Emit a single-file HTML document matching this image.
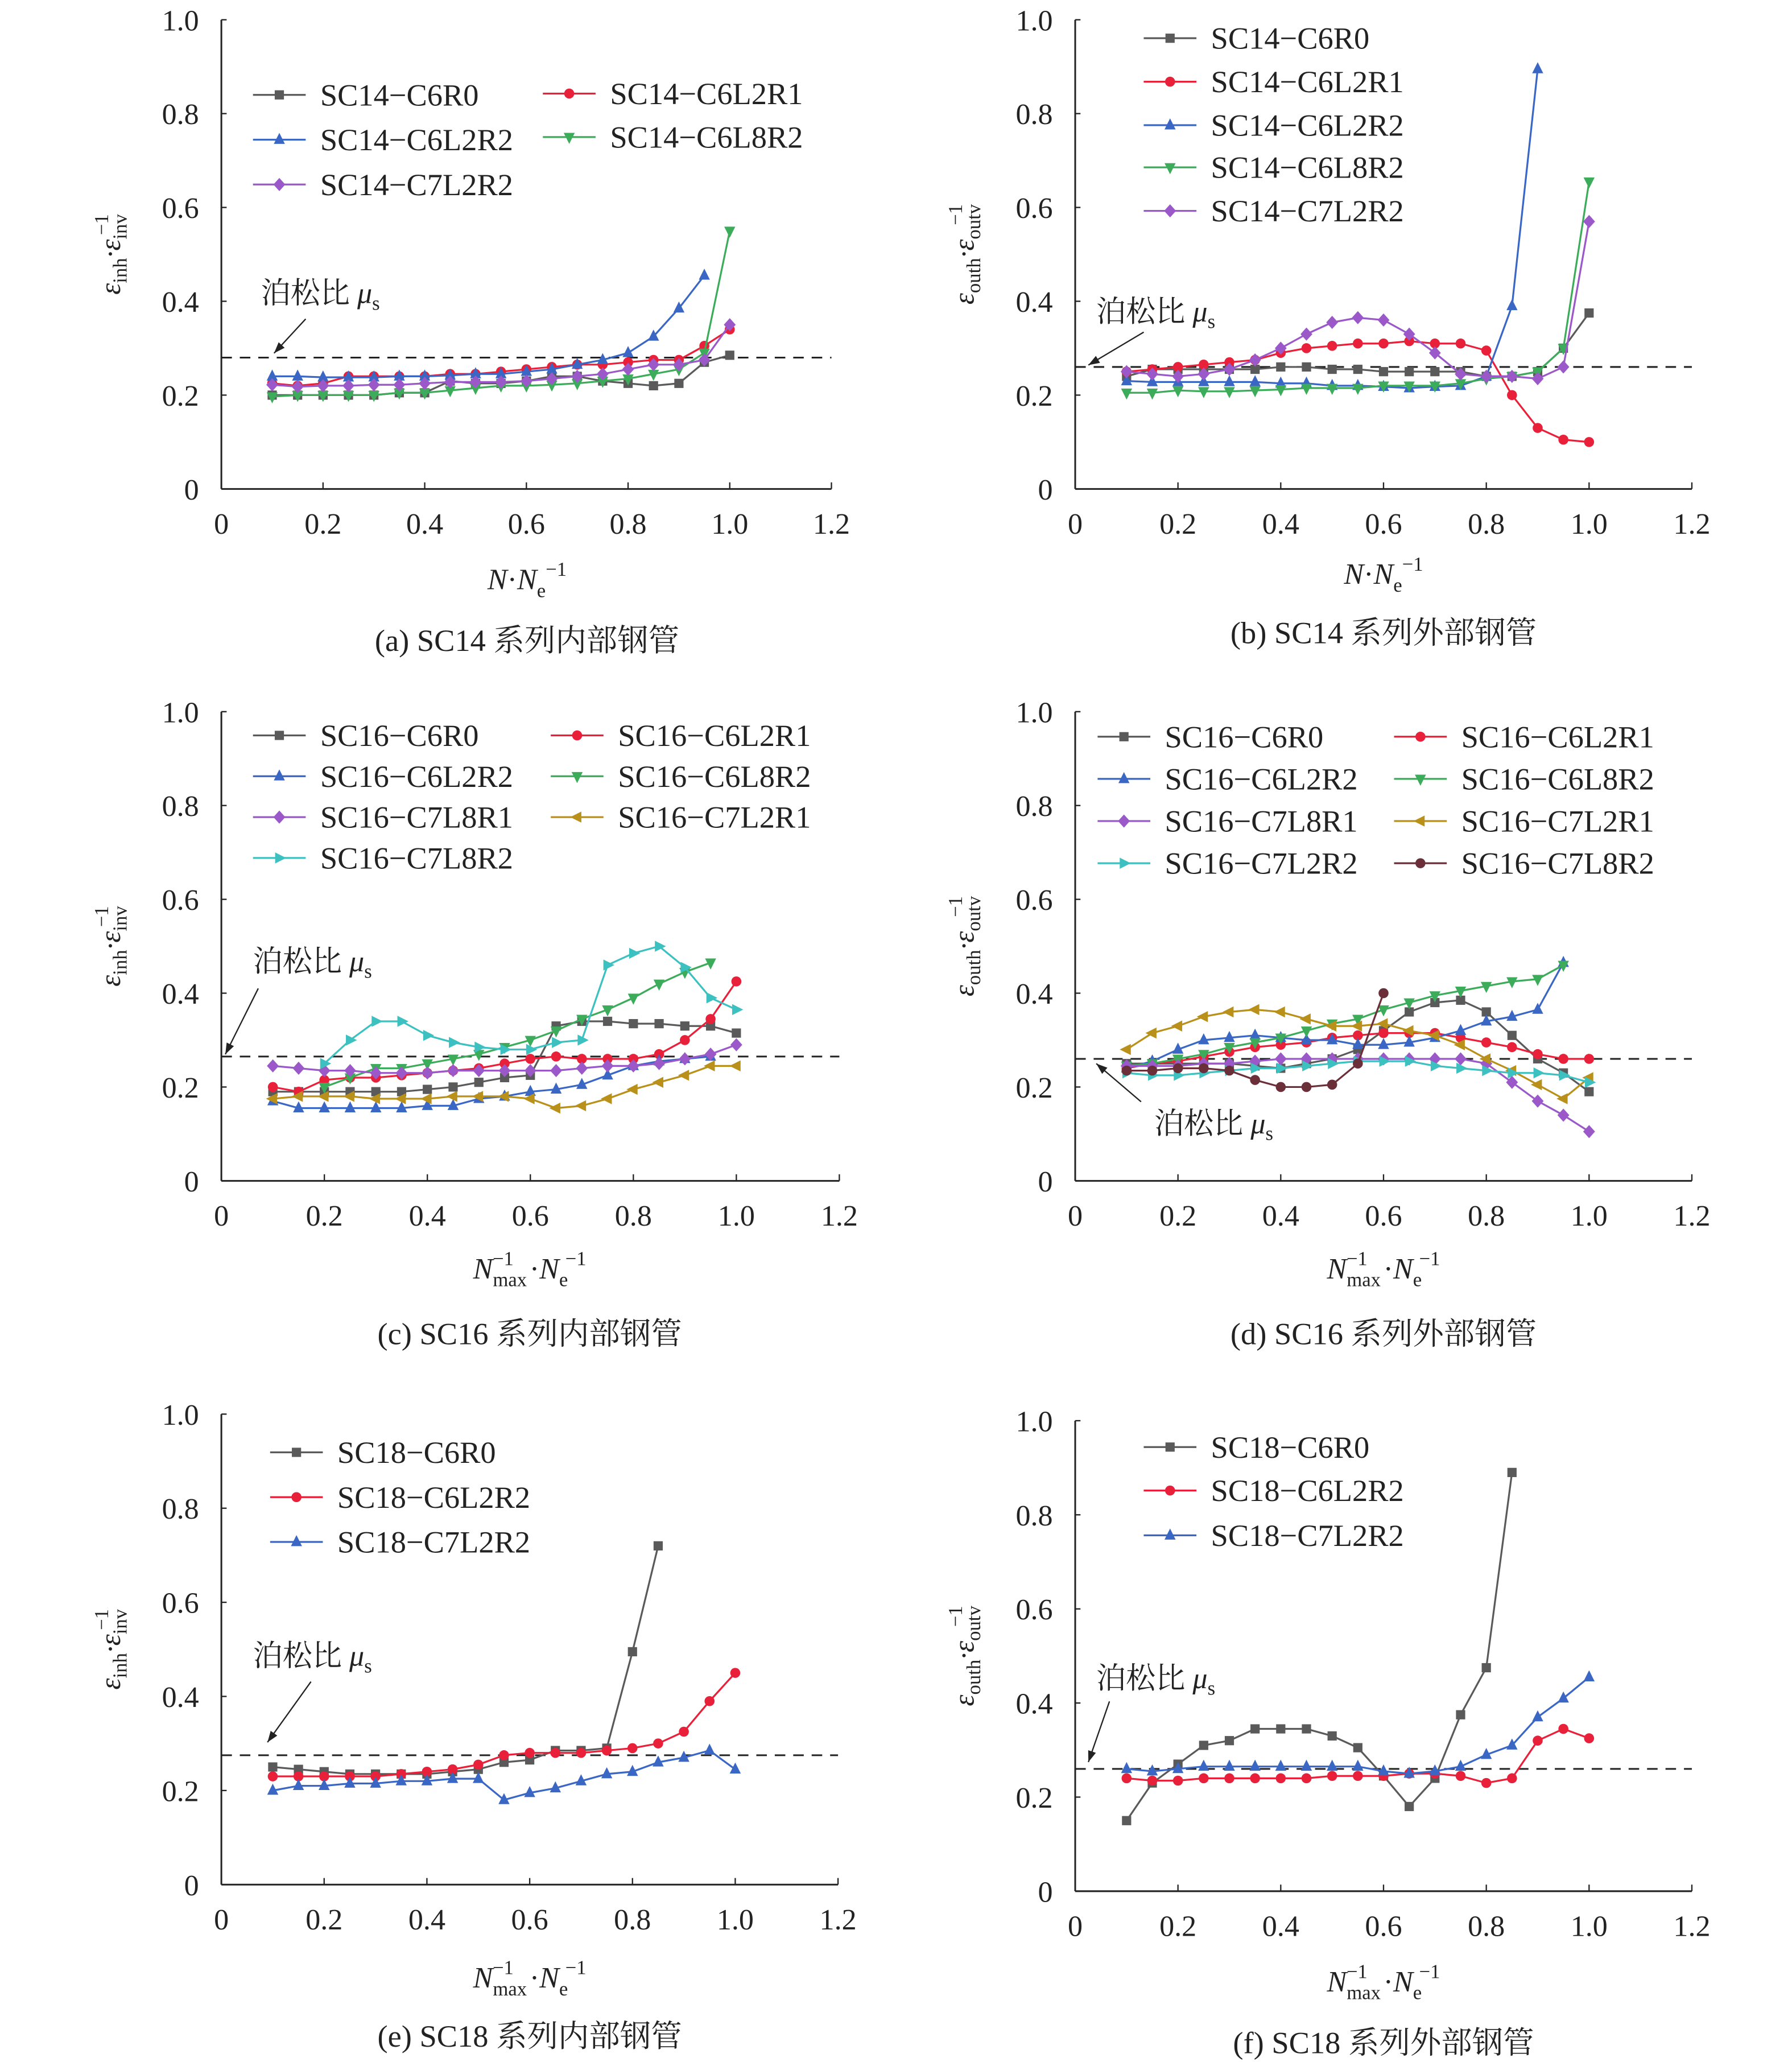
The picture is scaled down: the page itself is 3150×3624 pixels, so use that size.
<!DOCTYPE html>
<html><head><meta charset="utf-8"><style>
html,body{margin:0;padding:0;background:#fff}
svg{display:block}
text{font-family:"Liberation Serif","Noto Serif CJK SC","Noto Sans CJK SC",serif;fill:#222}
</style></head><body>
<svg id="s" width="3150" height="3624" viewBox="0 0 1360 1564.6" preserveAspectRatio="none" xmlns="http://www.w3.org/2000/svg"></svg>
<script>
const S=document.getElementById('s');let h='';
const C={g:'#5a5a5a',r:'#e8203a',b:'#3a66c4',gr:'#3cab5a',p:'#9a58c8',o:'#b8901a',c:'#3cc0c0',m:'#6b2f3a'};
function mk(t,x,y,c){const s=4.2;
 if(t=='sq')return `<rect x="${x-3.5}" y="${y-3.5}" width="7" height="7" fill="${c}"/>`;
 if(t=='ci')return `<circle cx="${x}" cy="${y}" r="3.8" fill="${c}"/>`;
 if(t=='tu')return `<polygon points="${x},${y-s-1} ${x-s},${y+s-1} ${x+s},${y+s-1}" fill="${c}"/>`;
 if(t=='td')return `<polygon points="${x},${y+s+1} ${x-s},${y-s+1} ${x+s},${y-s+1}" fill="${c}"/>`;
 if(t=='di')return `<polygon points="${x},${y-5} ${x+4.5},${y} ${x},${y+5} ${x-4.5},${y}" fill="${c}"/>`;
 if(t=='tl')return `<polygon points="${x-s-1},${y} ${x+s-1},${y-s} ${x+s-1},${y+s}" fill="${c}"/>`;
 if(t=='tr')return `<polygon points="${x+s+1},${y} ${x-s+1},${y-s} ${x-s+1},${y+s}" fill="${c}"/>`;}
function panel(P){
 const X=v=>P.x0+(P.x1-P.x0)*v/1.2, Y=v=>P.y0-(P.y0-P.y1)*v;
 h+=`<line x1="${P.x0}" y1="${P.y1}" x2="${P.x0}" y2="${P.y0}" stroke="#222" stroke-width="1.3"/>`;
 h+=`<line x1="${P.x0}" y1="${P.y0}" x2="${P.x1}" y2="${P.y0}" stroke="#222" stroke-width="1.3"/>`;
 for(let i=0;i<=5;i++){let y=Y(i*.2);h+=`<line x1="${P.x0}" y1="${y}" x2="${P.x0+4}" y2="${y}" stroke="#222"/>`;
  h+=`<text x="${P.x0-17}" y="${y+8}" font-size="22.5" text-anchor="end">${i==0?'0':i==5?'1.0':(i*.2).toFixed(1)}</text>`;}
 for(let i=0;i<=6;i++){let x=X(i*.2);h+=`<line x1="${x}" y1="${P.y0}" x2="${x}" y2="${P.y0-5}" stroke="#222"/>`;
  h+=`<text x="${x}" y="${P.y0+34}" font-size="22.5" text-anchor="middle">${i==0?'0':i==5?'1.0':(i*.2).toFixed(1)}</text>`;}
 h+=`<line x1="${P.x0}" y1="${Y(P.mu)}" x2="${P.x1}" y2="${Y(P.mu)}" stroke="#222" stroke-width="1.3" stroke-dasharray="8,6"/>`;
 P.ser.forEach(s=>{const st=s.s||0.1;let pts=s.d.map((v,i)=>[X(st+i*.05),Y(v)]);
  h+=`<polyline points="${pts.map(p=>p.join(',')).join(' ')}" fill="none" stroke="${s.c}" stroke-width="1.4"/>`;
  pts.forEach(p=>h+=mk(s.m,p[0],p[1],s.c));});
 P.leg.forEach(l=>{h+=`<line x1="${l[0]}" y1="${l[1]}" x2="${l[0]+40}" y2="${l[1]}" stroke="${l[3]}" stroke-width="1.4"/>`+mk(l[4],l[0]+20,l[1],l[3]);
  h+=`<text x="${l[0]+51}" y="${l[1]+8}" font-size="23.5">${l[2]}</text>`;});
 const a=P.ann;h+=`<text x="${a[0]}" y="${a[1]}" font-size="22.5">泊松比 <tspan font-style="italic">μ</tspan><tspan font-size="15" dy="5">s</tspan></text>`;
 h+=`<line x1="${a[2]}" y1="${a[3]}" x2="${a[4]}" y2="${a[5]}" stroke="#222"/>`;
 let ang=Math.atan2(a[5]-a[3],a[4]-a[2]),L=9;
 h+=`<polygon points="${a[4]},${a[5]} ${a[4]-L*Math.cos(ang-0.35)},${a[5]-L*Math.sin(ang-0.35)} ${a[4]-L*Math.cos(ang+0.35)},${a[5]-L*Math.sin(ang+0.35)}" fill="#222"/>`;
 h+=`<text transform="translate(${P.x0-77},${(P.y0+P.y1)/2}) rotate(-90)" font-size="22" text-anchor="middle" font-style="italic">ε<tspan font-size="15" dy="5" font-style="normal">${P.yl}h</tspan><tspan dy="-5">·ε</tspan><tspan font-size="15" dy="5" font-style="normal">${P.yl}v</tspan><tspan font-size="15" dy="-14" dx="-16" font-style="normal">−1</tspan></text>`;
 const xl=P.nm?`<tspan font-style="italic">N</tspan><tspan font-size="15" dy="6">max</tspan><tspan font-size="15" dy="-16" dx="-26">−1</tspan><tspan dy="10" dx="12">·</tspan><tspan font-style="italic">N</tspan><tspan font-size="15" dy="6">e</tspan><tspan font-size="15" dy="-16" dx="-2">−1</tspan>`:`<tspan font-style="italic">N</tspan>·<tspan font-style="italic">N</tspan><tspan font-size="15" dy="6">e</tspan><tspan font-size="15" dy="-16">−1</tspan>`;
 h+=`<text x="${P.xc}" y="${P.xt}" font-size="22.5" text-anchor="middle">${xl}</text>`;
 h+=`<text x="${P.xc}" y="${P.cap}" font-size="23.5" text-anchor="middle">${P.capt}</text>`;
}
const Bc=868;
panel({x0:168,x1:631,y0:371,y1:15,mu:0.28,yl:'in',xc:400,xt:447,cap:494,capt:'(a) SC14 系列内部钢管',
 ann:[198,230,232,242,208,268],
 ser:[{c:C.g,m:'sq',d:[0.2,0.2,0.2,0.2,0.2,0.205,0.205,0.23,0.225,0.225,0.23,0.24,0.24,0.23,0.225,0.22,0.225,0.27,0.285]},
 {c:C.r,m:'ci',d:[0.225,0.22,0.225,0.24,0.24,0.24,0.24,0.245,0.245,0.25,0.255,0.26,0.265,0.265,0.27,0.275,0.275,0.305,0.34]},
 {c:C.b,m:'tu',d:[0.24,0.24,0.238,0.238,0.238,0.24,0.24,0.242,0.245,0.245,0.25,0.255,0.265,0.275,0.29,0.325,0.385,0.455]},
 {c:C.gr,m:'td',d:[0.197,0.2,0.2,0.2,0.2,0.205,0.205,0.21,0.215,0.22,0.22,0.222,0.225,0.23,0.235,0.245,0.255,0.29,0.55]},
 {c:C.p,m:'di',d:[0.222,0.218,0.22,0.22,0.222,0.222,0.225,0.228,0.228,0.228,0.23,0.235,0.24,0.245,0.255,0.265,0.265,0.275,0.35]}],
 leg:[[192,72,'SC14−C6R0',C.g,'sq'],[412,71,'SC14−C6L2R1',C.r,'ci'],[192,106,'SC14−C6L2R2',C.b,'tu'],[412,104,'SC14−C6L8R2',C.gr,'td'],[192,140,'SC14−C7L2R2',C.p,'di']]});
panel({x0:816,x1:1284,y0:371,y1:15,mu:0.26,yl:'out',xc:1050,xt:443,cap:488,capt:'(b) SC14 系列外部钢管',
 ann:[832,244,868,252,826,277],
 ser:[{c:C.g,m:'sq',d:[0.24,0.255,0.255,0.255,0.255,0.255,0.26,0.26,0.255,0.255,0.25,0.25,0.25,0.25,0.24,0.24,0.25,0.3,0.375]},
 {c:C.r,m:'ci',d:[0.25,0.255,0.26,0.265,0.27,0.275,0.29,0.3,0.305,0.31,0.31,0.315,0.31,0.31,0.295,0.2,0.13,0.105,0.1]},
 {c:C.b,m:'tu',d:[0.23,0.228,0.228,0.228,0.228,0.228,0.225,0.225,0.22,0.22,0.218,0.215,0.218,0.22,0.24,0.39,0.895]},
 {c:C.gr,m:'td',d:[0.205,0.205,0.21,0.208,0.208,0.21,0.212,0.215,0.215,0.215,0.22,0.22,0.22,0.225,0.235,0.24,0.25,0.3,0.655]},
 {c:C.p,m:'di',d:[0.25,0.245,0.24,0.245,0.255,0.275,0.3,0.33,0.355,0.365,0.36,0.33,0.29,0.245,0.24,0.24,0.235,0.26,0.57]}],
 leg:[[Bc,29,'SC14−C6R0',C.g,'sq'],[Bc,62,'SC14−C6L2R1',C.r,'ci'],[Bc,95,'SC14−C6L2R2',C.b,'tu'],[Bc,127,'SC14−C6L8R2',C.gr,'td'],[Bc,160,'SC14−C7L2R2',C.p,'di']]});
panel({x0:168,x1:637,y0:896,y1:540,mu:0.265,yl:'in',nm:1,xc:402,xt:970,cap:1020,capt:'(c) SC16 系列内部钢管',
 ann:[192,737,196,750,171,800],
 ser:[{c:C.g,m:'sq',d:[0.19,0.19,0.19,0.19,0.19,0.19,0.195,0.2,0.21,0.22,0.225,0.33,0.34,0.34,0.335,0.335,0.33,0.33,0.315]},
 {c:C.r,m:'ci',d:[0.2,0.19,0.215,0.22,0.22,0.225,0.23,0.235,0.24,0.25,0.26,0.265,0.26,0.26,0.26,0.27,0.3,0.345,0.425]},
 {c:C.b,m:'tu',d:[0.17,0.155,0.155,0.155,0.155,0.155,0.16,0.16,0.175,0.18,0.19,0.195,0.205,0.225,0.245,0.255,0.26,0.265]},
 {c:C.gr,m:'td',s:0.2,d:[0.2,0.22,0.24,0.24,0.25,0.26,0.27,0.285,0.3,0.32,0.345,0.365,0.39,0.42,0.445,0.465]},
 {c:C.p,m:'di',d:[0.245,0.24,0.235,0.235,0.23,0.23,0.23,0.235,0.235,0.235,0.235,0.235,0.24,0.245,0.245,0.25,0.26,0.27,0.29]},
 {c:C.o,m:'tl',d:[0.175,0.18,0.18,0.18,0.175,0.175,0.175,0.18,0.18,0.18,0.175,0.155,0.16,0.175,0.195,0.21,0.225,0.245,0.245]},
 {c:C.c,m:'tr',s:0.2,d:[0.25,0.3,0.34,0.34,0.31,0.295,0.285,0.28,0.28,0.295,0.3,0.46,0.485,0.5,0.455,0.39,0.365]}],
 leg:[[192,558,'SC16−C6R0',C.g,'sq'],[418,558,'SC16−C6L2R1',C.r,'ci'],[192,589,'SC16−C6L2R2',C.b,'tu'],[418,589,'SC16−C6L8R2',C.gr,'td'],[192,620,'SC16−C7L8R1',C.p,'di'],[418,620,'SC16−C7L2R1',C.o,'tl'],[192,651,'SC16−C7L8R2',C.c,'tr']]});
panel({x0:816,x1:1284,y0:896,y1:540,mu:0.26,yl:'out',nm:1,xc:1050,xt:970,cap:1020,capt:'(d) SC16 系列外部钢管',
 ann:[876,860,866,836,832,807],
 ser:[{c:C.g,m:'sq',d:[0.25,0.25,0.25,0.25,0.25,0.245,0.24,0.25,0.26,0.28,0.32,0.36,0.38,0.385,0.36,0.31,0.26,0.23,0.19]},
 {c:C.r,m:'ci',d:[0.24,0.25,0.255,0.265,0.275,0.285,0.29,0.295,0.305,0.31,0.315,0.315,0.315,0.305,0.295,0.285,0.27,0.26,0.26]},
 {c:C.b,m:'tu',d:[0.24,0.255,0.28,0.3,0.305,0.31,0.305,0.3,0.3,0.29,0.29,0.295,0.305,0.32,0.34,0.35,0.365,0.465]},
 {c:C.gr,m:'td',d:[0.245,0.25,0.26,0.27,0.285,0.295,0.305,0.32,0.335,0.345,0.365,0.38,0.395,0.405,0.415,0.425,0.43,0.46]},
 {c:C.p,m:'di',d:[0.245,0.245,0.245,0.25,0.25,0.255,0.26,0.26,0.26,0.26,0.26,0.26,0.26,0.26,0.25,0.21,0.17,0.14,0.105]},
 {c:C.o,m:'tl',d:[0.28,0.315,0.33,0.35,0.36,0.365,0.36,0.345,0.33,0.33,0.335,0.32,0.31,0.29,0.26,0.235,0.205,0.175,0.22]},
 {c:C.c,m:'tr',d:[0.23,0.225,0.225,0.23,0.235,0.24,0.24,0.245,0.25,0.255,0.255,0.255,0.245,0.24,0.235,0.23,0.23,0.225,0.21]},
 {c:C.m,m:'ci',d:[0.235,0.235,0.24,0.24,0.235,0.215,0.2,0.2,0.205,0.25,0.4]}],
 leg:[[833,559,'SC16−C6R0',C.g,'sq'],[1058,559,'SC16−C6L2R1',C.r,'ci'],[833,591,'SC16−C6L2R2',C.b,'tu'],[1058,591,'SC16−C6L8R2',C.gr,'td'],[833,623,'SC16−C7L8R1',C.p,'di'],[1058,623,'SC16−C7L2R1',C.o,'tl'],[833,655,'SC16−C7L2R2',C.c,'tr'],[1058,655,'SC16−C7L8R2',C.m,'ci']]});
panel({x0:168,x1:636,y0:1430,y1:1073,mu:0.275,yl:'in',nm:1,xc:402,xt:1508,cap:1553,capt:'(e) SC18 系列内部钢管',
 ann:[192,1264,236,1276,203,1322],
 ser:[{c:C.g,m:'sq',d:[0.25,0.245,0.24,0.235,0.235,0.235,0.235,0.24,0.245,0.26,0.265,0.285,0.285,0.29,0.495,0.72]},
 {c:C.r,m:'ci',d:[0.23,0.23,0.23,0.23,0.23,0.235,0.24,0.245,0.255,0.275,0.28,0.28,0.28,0.285,0.29,0.3,0.325,0.39,0.45]},
 {c:C.b,m:'tu',d:[0.2,0.21,0.21,0.215,0.215,0.22,0.22,0.225,0.225,0.18,0.195,0.205,0.22,0.235,0.24,0.26,0.27,0.285,0.245]}],
 leg:[[205,1102,'SC18−C6R0',C.g,'sq'],[205,1136,'SC18−C6L2R2',C.r,'ci'],[205,1170,'SC18−C7L2R2',C.b,'tu']]});
panel({x0:816,x1:1284,y0:1435,y1:1078,mu:0.26,yl:'out',nm:1,xc:1050,xt:1511,cap:1558,capt:'(f) SC18 系列外部钢管',
 ann:[832,1281,842,1291,826,1337],
 ser:[{c:C.g,m:'sq',d:[0.15,0.23,0.27,0.31,0.32,0.345,0.345,0.345,0.33,0.305,0.245,0.18,0.24,0.375,0.475,0.89]},
 {c:C.r,m:'ci',d:[0.24,0.235,0.235,0.24,0.24,0.24,0.24,0.24,0.245,0.245,0.245,0.25,0.25,0.245,0.23,0.24,0.32,0.345,0.325]},
 {c:C.b,m:'tu',d:[0.26,0.255,0.26,0.265,0.265,0.265,0.265,0.265,0.265,0.265,0.255,0.25,0.255,0.265,0.29,0.31,0.37,0.41,0.455]}],
 leg:[[Bc,1098,'SC18−C6R0',C.g,'sq'],[Bc,1131,'SC18−C6L2R2',C.r,'ci'],[Bc,1165,'SC18−C7L2R2',C.b,'tu']]});
S.innerHTML=h;
</script>
</body></html>
